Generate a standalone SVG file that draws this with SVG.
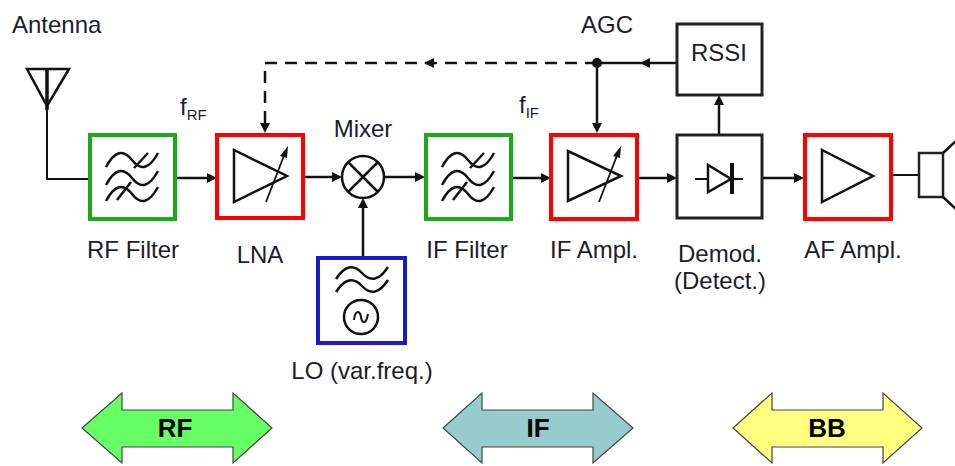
<svg xmlns="http://www.w3.org/2000/svg" width="955" height="466" viewBox="0 0 955 466">
<style>
text{font-family:"Liberation Sans",Arial,sans-serif;fill:#1c1c2c}
.lbl{font-size:24px;text-anchor:middle}
.big{font-size:26px;font-weight:bold;text-anchor:middle;fill:#000}
.box{fill:#fff;stroke-width:4}
.g{stroke:#1aaa1a}
.r{stroke:#ff0000}
.b{stroke:#1a1acc}
.k{stroke:#222;stroke-width:3}
.sym{fill:none;stroke:#111;stroke-width:2.5;stroke-linejoin:miter}
.ln{fill:none;stroke:#111;stroke-width:2.5}
.ah{fill:#111}
.band{stroke:#444;stroke-width:1.2}
</style>
<defs>
<g id="filt" class="sym">
<path d="M-26,-10 Q-13,-34 0,-17 T26,-24"/>
<path d="M-26,8 Q-13,-16 0,1 T26,-6"/>
<path d="M-26,24 Q-13,0 0,17 T26,10"/>
<path d="M2,-9 L16,-24"/>
<path d="M-15,23 L-1,5"/>
</g>
<g id="varr">
<path d="M-8,27 L11,-22" fill="none" stroke="#111" stroke-width="1.8"/>
<polygon points="14,-29 6,-19 13,-17" fill="#111"/>
</g>
</defs>

<!-- connectors -->
<g id="connectors">
<path class="ln" d="M47,70 L47,179 L90,179" style="stroke-width:2"/>
<path class="ln" d="M175,178 L209,178"/><polygon class="ah" points="217,178 207,173 207,183"/>
<path class="ln" d="M303,177 L334,177"/><polygon class="ah" points="342,177 332,172 332,182"/>
<path class="ln" d="M384,177 L417,177"/><polygon class="ah" points="425,177 415,172 415,182"/>
<path class="ln" d="M511,178 L543,178"/><polygon class="ah" points="551,178 541,173 541,183"/>
<path class="ln" d="M637,178 L669,178"/><polygon class="ah" points="677,178 667,173 667,183"/>
<path class="ln" d="M762,178 L796,178"/><polygon class="ah" points="804,178 794,173 794,183"/>
<path class="ln" d="M891,175 L918,175" style="stroke-width:2"/>
<path class="ln" d="M363,257 L363,206"/><polygon class="ah" points="363,198 358,208 368,208"/>
<path class="ln" d="M719,134 L719,103"/><polygon class="ah" points="719,95 714,105 724,105"/>
<path class="ln" d="M677,63 L597,63"/><polygon class="ah" points="640,63 650,58 650,68"/>
<path class="ln" d="M597,63 L597,125"/><polygon class="ah" points="597,133 592,123 602,123"/>
<path class="ln" d="M597,63 L265,63 L265,125" style="stroke-dasharray:12 8"/>
<polygon class="ah" points="424,63 434,58 434,68"/>
<polygon class="ah" points="265,133 260,123 270,123"/>
<circle cx="597" cy="63" r="5" fill="#111"/>
</g>

<!-- antenna -->
<g id="antenna">
<polygon points="27,69 69,69 47,106" fill="none" stroke="#111" stroke-width="2.5"/>
<line x1="47" y1="70" x2="47" y2="110" stroke="#111" stroke-width="3.5"/>
<text x="12" y="33" style="font-size:24px">Antenna</text>
</g>

<g id="rf-filter">
<rect class="box g" x="90" y="135" width="85" height="84"/>
<use href="#filt" x="132" y="177"/>
<text class="lbl" x="133" y="258">RF Filter</text>
<text x="180" y="115" style="font-size:24px">f<tspan style="font-size:15px" dy="5">RF</tspan></text>
</g>

<g id="lna">
<rect class="box r" x="217" y="135" width="86" height="83"/>
<polygon class="sym" points="234,150 234,202 287,176"/>
<use href="#varr" x="274" y="175"/>
<text class="lbl" x="260" y="263">LNA</text>
</g>

<g id="mixer">
<circle cx="363" cy="177" r="21" fill="#fff" stroke="#111" stroke-width="2.5"/>
<path class="ln" d="M348,162 L378,192 M378,162 L348,192"/>
<text class="lbl" x="363" y="137">Mixer</text>
</g>

<g id="lo">
<rect class="box b" x="318" y="258" width="87" height="85"/>
<path class="sym" d="M336,279 Q349,259 362,273 T388,267"/>
<path class="sym" d="M336,292 Q349,272 362,286 T388,280"/>
<circle cx="361" cy="317" r="17" fill="none" stroke="#111" stroke-width="2.5"/>
<path d="M354,320 C355,310 360,310 361,317 S366,325 368,314" fill="none" stroke="#111" stroke-width="2"/>
<text class="lbl" x="362" y="379">LO (var.freq.)</text>
</g>

<g id="if-filter">
<rect class="box g" x="426" y="135" width="85" height="84"/>
<use href="#filt" x="468" y="177"/>
<text class="lbl" x="467" y="258">IF Filter</text>
<text x="519" y="113" style="font-size:24px">f<tspan style="font-size:15px" dy="5">IF</tspan></text>
</g>

<g id="if-ampl">
<rect class="box r" x="551" y="135" width="86" height="84"/>
<polygon class="sym" points="568,151 568,201 621,176"/>
<use href="#varr" x="607" y="175"/>
<text class="lbl" x="594" y="258">IF Ampl.</text>
<text class="lbl" x="607" y="33">AGC</text>
</g>

<g id="demod">
<rect class="box k" x="677" y="135" width="85" height="83"/>
<path class="ln" d="M695,179 L743,179" style="stroke-width:2"/>
<polygon points="708,165 708,192 731,179" fill="#fff" stroke="#111" stroke-width="2.5"/>
<line x1="732" y1="163" x2="732" y2="194" stroke="#111" stroke-width="4"/>
<text class="lbl" x="720" y="262">Demod.</text>
<text class="lbl" x="720" y="289">(Detect.)</text>
</g>

<g id="rssi">
<rect class="box k" x="677" y="24" width="85" height="71"/>
<text class="lbl" x="719" y="61">RSSI</text>
</g>

<g id="af-ampl">
<rect class="box r" x="805" y="135" width="86" height="84"/>
<polygon class="sym" points="822,150 822,202 873,176"/>
<text class="lbl" x="853" y="258">AF Ampl.</text>
</g>

<g id="speaker">
<rect x="919" y="153" width="24" height="44" fill="#fff" stroke="#222" stroke-width="2.5"/>
<path class="ln" d="M943,153 L957,140 M943,197 L957,210"/>
</g>

<g id="bands">
<polygon class="band" fill="#66ff66" points="82,428 122,393 122,410 233,410 233,393 272,428 233,463 233,447 122,447 122,463"/>
<text class="big" x="175" y="437">RF</text>
<polygon class="band" fill="#96cccc" points="443,428 482,393 482,410 593,410 593,393 633,428 593,463 593,447 482,447 482,463"/>
<text class="big" x="538" y="437">IF</text>
<polygon class="band" fill="#ffff80" points="733,428 772,393 772,410 883,410 883,393 922,428 883,463 883,447 772,447 772,463"/>
<text class="big" x="827" y="437">BB</text>
</g>
</svg>
